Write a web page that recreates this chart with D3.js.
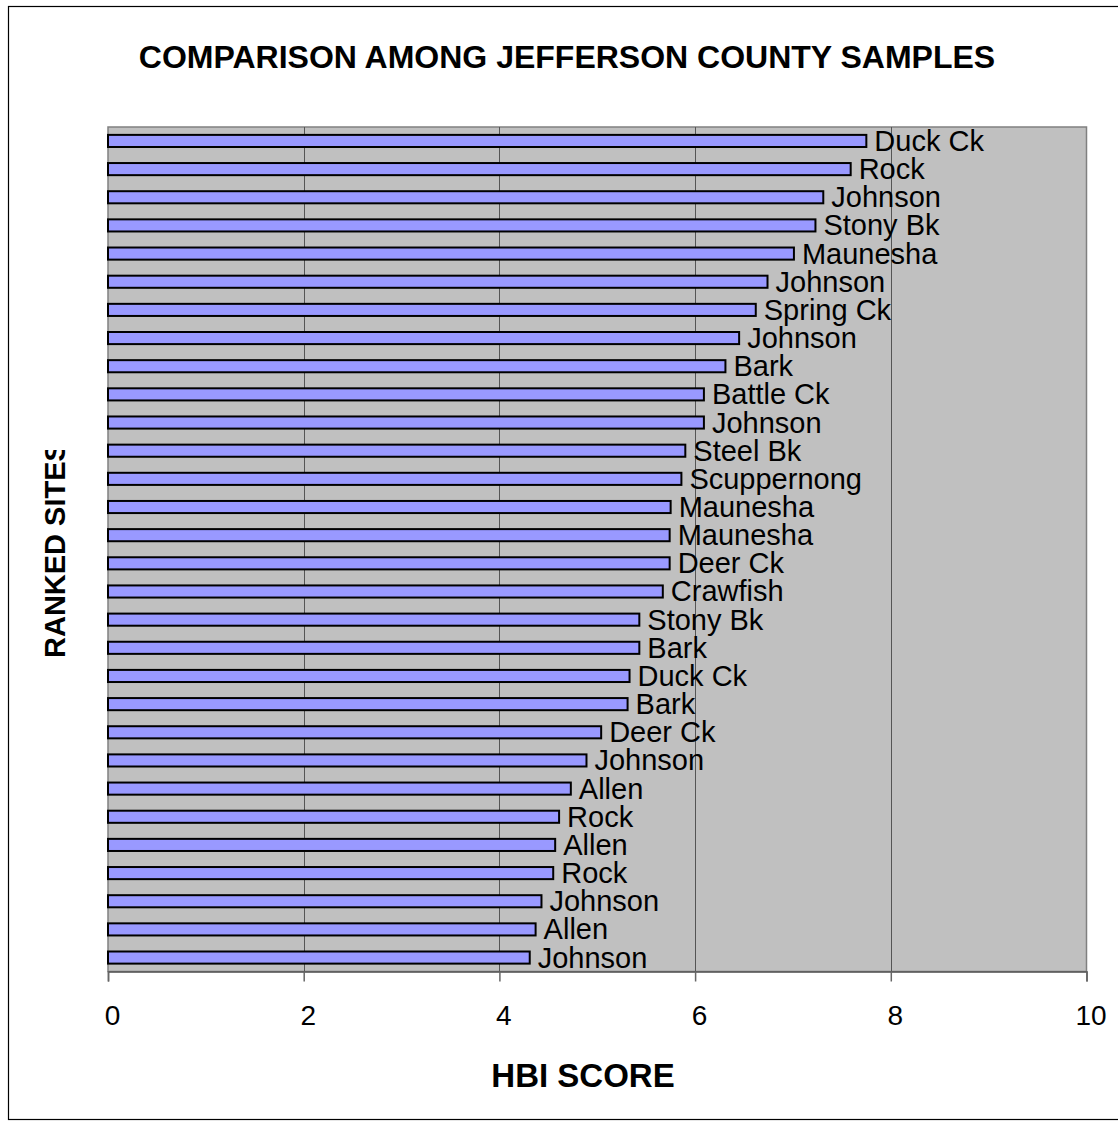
<!DOCTYPE html>
<html>
<head>
<meta charset="utf-8">
<script src="https://cdn.jsdelivr.net/npm/d3@7"></script>
<style>
  html, body { margin: 0; padding: 0; background: #fff; }
  svg { display: block; font-family: Arial, "Liberation Sans", sans-serif; }
</style>
</head>
<body>
<svg id="chart" width="1118" height="1129"></svg>
<script>
// Ranked sampling sites, highest HBI score first
const sites = [
  "Duck Ck", "Rock", "Johnson", "Stony Bk", "Maunesha", "Johnson", "Spring Ck",
  "Johnson", "Bark", "Battle Ck", "Johnson", "Steel Bk", "Scuppernong", "Maunesha",
  "Maunesha", "Deer Ck", "Crawfish", "Stony Bk", "Bark", "Duck Ck", "Bark",
  "Deer Ck", "Johnson", "Allen", "Rock", "Allen", "Rock", "Johnson", "Allen", "Johnson"
];
const hbiScores = [
  7.75, 7.59, 7.31, 7.23, 7.01, 6.74, 6.62,
  6.45, 6.31, 6.09, 6.09, 5.90, 5.86, 5.75,
  5.74, 5.74, 5.67, 5.43, 5.43, 5.33, 5.31,
  5.04, 4.89, 4.73, 4.61, 4.57, 4.55, 4.43, 4.37, 4.31
];
const xTicks = [0, 2, 4, 6, 8, 10];

const svg = d3.select("#chart");
const defs = svg.append("defs");

// Outer frame
svg.append("rect")
  .attr("x", 8.5).attr("y", 6.5)
  .attr("width", 1120).attr("height", 1113)
  .attr("fill", "#fff").attr("stroke", "#000").attr("stroke-width", 1.2);

const plot = { left: 108, right: 1086.5, top: 127, bottom: 971.5 };

const x = d3.scaleLinear().domain([0, 10]).range([plot.left, plot.right]);
const y = d3.scaleBand()
  .domain(d3.range(sites.length))
  .range([plot.top, plot.bottom])
  .paddingInner(0.57).paddingOuter(0.28);

// Plot background
svg.append("rect")
  .attr("x", plot.left).attr("y", plot.top)
  .attr("width", plot.right - plot.left).attr("height", plot.bottom - plot.top)
  .attr("fill", "#C0C0C0").attr("stroke", "#808080").attr("stroke-width", 1.5);

// Vertical gridlines
svg.append("g")
  .selectAll("line")
  .data(xTicks.filter(t => t > 0 && t < 10))
  .join("line")
  .attr("x1", d => Math.round(x(d)) + 0.5).attr("x2", d => Math.round(x(d)) + 0.5)
  .attr("y1", plot.top).attr("y2", plot.bottom)
  .attr("stroke", "#555").attr("stroke-width", 1);

// X axis
const xAxis = d3.axisBottom(x)
  .tickValues(xTicks)
  .tickSize(10)
  .tickPadding(24)
  .tickFormat(d3.format("d"));

const gx = svg.append("g")
  .attr("transform", `translate(0,${plot.bottom})`)
  .call(xAxis);
gx.select(".domain").attr("stroke", "#555").attr("stroke-width", 1.5);
gx.selectAll(".tick line").attr("stroke", "#666").attr("stroke-width", 1.5);
gx.selectAll(".tick text")
  .attr("font-size", 28).attr("fill", "#000")
  .attr("font-family", "Arial, 'Liberation Sans', sans-serif")
  .attr("dx", 4);

// Bars
svg.append("g")
  .selectAll("rect")
  .data(hbiScores)
  .join("rect")
  .attr("x", x(0))
  .attr("y", (d, i) => y(i))
  .attr("width", d => x(d) - x(0))
  .attr("height", y.bandwidth())
  .attr("fill", "#9999FF")
  .attr("stroke", "#000")
  .attr("stroke-width", 2);

// Site name labels at bar ends
svg.append("g")
  .selectAll("text")
  .data(hbiScores)
  .join("text")
  .attr("x", d => x(d) + 8)
  .attr("y", (d, i) => y(i) + y.bandwidth() / 2 + 10)
  .attr("font-size", 29)
  .attr("fill", "#000")
  .text((d, i) => sites[i]);

// Chart title
svg.append("text")
  .attr("x", 567).attr("y", 68)
  .attr("text-anchor", "middle")
  .attr("font-size", 32).attr("font-weight", "bold")
  .text("COMPARISON AMONG JEFFERSON COUNTY SAMPLES");

// X axis title
svg.append("text")
  .attr("x", 583).attr("y", 1087)
  .attr("text-anchor", "middle")
  .attr("font-size", 33).attr("font-weight", "bold")
  .text("HBI SCORE");

// Y axis title (clipped at the top of its box)
defs.append("clipPath").attr("id", "ytitle-clip")
  .append("rect").attr("x", 0).attr("y", 450).attr("width", 100).attr("height", 300);

svg.append("g")
  .attr("clip-path", "url(#ytitle-clip)")
  .append("text")
  .attr("transform", "translate(65,658) rotate(-90)")
  .attr("font-size", 29).attr("font-weight", "bold")
  .text("RANKED SITES");
</script>
</body>
</html>
